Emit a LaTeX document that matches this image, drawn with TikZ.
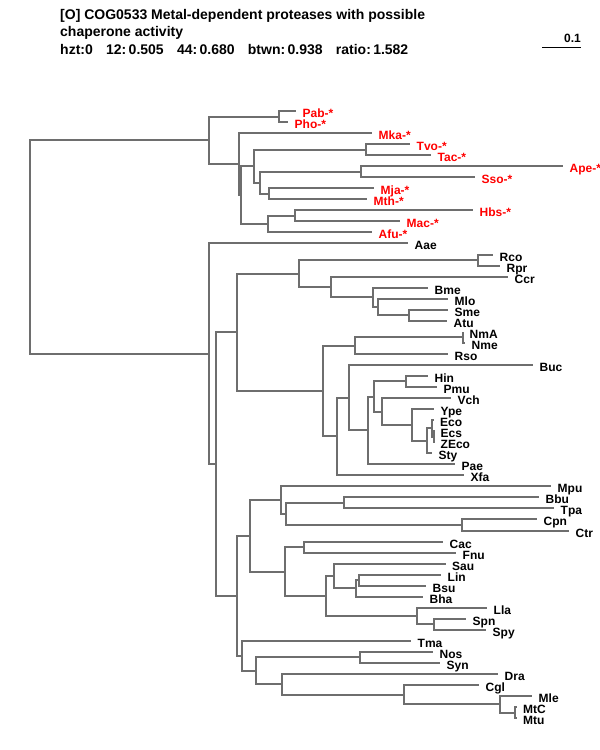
\documentclass[tikz,border=0pt]{standalone}
\usepackage{fontspec}
\setmainfont{Liberation Sans}
\definecolor{branchgray}{RGB}{110,110,110}
\definecolor{archred}{RGB}{255,0,0}
\tikzset{
  branch/.style={draw=branchgray, line width=2pt},
  taxlabel/.style={anchor=base west, inner sep=0pt, font=\bfseries\fontsize{12}{12}\selectfont},
  headline/.style={anchor=base west, inner sep=0pt, font=\bfseries\fontsize{14}{14}\selectfont},
}
% leaf: [colour]{name}{x end}{row}{text}
\newcommand{\taxon}[5][black]{%
  \coordinate (#2) at (#3,#4);
  \node[taxlabel, text=#1] (#2-lab) at ([xshift=6.5pt,yshift=-6.5pt]#2) {#5};}

\begin{document}
\begin{tikzpicture}[x=1pt, y=-1pt, line join=miter]
\useasboundingbox (0,0) rectangle (600,750);

% heading
\node[headline] (title1) at (60,19) {[O] COG0533 Metal-dependent proteases with possible};
\node[headline] (title2) at (60,36.5) {chaperone activity};
\node[headline] (stats) at (60,54) {hzt:0\hspace{0.95em}12:\,0.505\hspace{0.95em}44:\,0.680\hspace{0.95em}btwn:\,0.938\hspace{0.95em}ratio:\,1.582};

% scale bar
\coordinate (bar-l) at (542,47);
\coordinate (bar-r) at (581,47);
\draw[line width=1pt] (bar-l) -- (bar-r);
\node[taxlabel, anchor=base east] (bar-lab) at (581,42) {0.1};

\begin{scope}[yshift=-99.96pt, y=-11.04pt]
% archaea
\taxon[archred]{Pab}{296}{1}{Pab-*}
\taxon[archred]{Pho}{288}{2}{Pho-*}
\taxon[archred]{Mka}{372}{3}{Mka-*}
\taxon[archred]{Tvo}{410}{4}{Tvo-*}
\taxon[archred]{Tac}{431}{5}{Tac-*}
\taxon[archred]{Ape}{563}{6}{Ape-*}
\taxon[archred]{Sso}{475}{7}{Sso-*}
\taxon[archred]{Mja}{374}{8}{Mja-*}
\taxon[archred]{Mth}{367}{9}{Mth-*}
\taxon[archred]{Hbs}{473}{10}{Hbs-*}
\taxon[archred]{Mac}{400}{11}{Mac-*}
\taxon[archred]{Afu}{372}{12}{Afu-*}
% bacteria
\taxon{Aae}{408}{13}{Aae}
\taxon{Rco}{493}{14}{Rco}
\taxon{Rpr}{500}{15}{Rpr}
\taxon{Ccr}{508}{16}{Ccr}
\taxon{Bme}{428}{17}{Bme}
\taxon{Mlo}{448}{18}{Mlo}
\taxon{Sme}{448}{19}{Sme}
\taxon{Atu}{447}{20}{Atu}
\taxon{NmA}{463}{21}{NmA}
\taxon{Nme}{465}{22}{Nme}
\taxon{Rso}{448}{23}{Rso}
\taxon{Buc}{533}{24}{Buc}
\taxon{Hin}{428}{25}{Hin}
\taxon{Pmu}{437}{26}{Pmu}
\taxon{Vch}{451}{27}{Vch}
\taxon{Ype}{434}{28}{Ype}
\taxon{Eco}{433.5}{29}{Eco}
\taxon{Ecs}{434}{30}{Ecs}
\taxon{ZEco}{434}{31}{ZEco}
\taxon{Sty}{432}{32}{Sty}
\taxon{Pae}{455}{33}{Pae}
\taxon{Xfa}{464}{34}{Xfa}
\taxon{Mpu}{551}{35}{Mpu}
\taxon{Bbu}{539}{36}{Bbu}
\taxon{Tpa}{554}{37}{Tpa}
\taxon{Cpn}{537}{38}{Cpn}
\taxon{Ctr}{569}{39}{Ctr}
\taxon{Cac}{443}{40}{Cac}
\taxon{Fnu}{456}{41}{Fnu}
\taxon{Sau}{445.5}{42}{Sau}
\taxon{Lin}{441}{43}{Lin}
\taxon{Bsu}{426}{44}{Bsu}
\taxon{Bha}{423}{45}{Bha}
\taxon{Lla}{487}{46}{Lla}
\taxon{Spn}{466}{47}{Spn}
\taxon{Spy}{486}{48}{Spy}
\taxon{Tma}{411}{49}{Tma}
\taxon{Nos}{433}{50}{Nos}
\taxon{Syn}{440}{51}{Syn}
\taxon{Dra}{498}{52}{Dra}
\taxon{Cgl}{479}{53}{Cgl}
\taxon{Mle}{532}{54}{Mle}
\taxon{MtC}{516.5}{55}{MtC}
\taxon{Mtu}{516.5}{56}{Mtu}

% inner nodes, archaea
\coordinate (pp)  at (279,1.5);
\coordinate (nTT) at (366,4.5);
\coordinate (nAS) at (361,6.5);
\coordinate (nMM) at (269,8.5);
\coordinate (nC)  at (260,7.5);
\coordinate (nD)  at (254,6);
\coordinate (nHM) at (295,10.5);
\coordinate (nHA) at (268,11.25);
\coordinate (nB)  at (241,8.625);
\coordinate (nA)  at (239,5.8125);
\coordinate (arc) at (209,3.656);
% inner nodes, bacteria
\coordinate (nRR) at (478,14.5);
\coordinate (nSA) at (409,19.5);
\coordinate (nMl) at (378,18.75);
\coordinate (nBm) at (373,17.875);
\coordinate (nCc) at (331,16.94);
\coordinate (alp) at (299,15.72);
\coordinate (nNN) at (463,21.5);
\coordinate (nRs) at (355,22.25);
\coordinate (nHP) at (406,25.5);
\coordinate (nEZ) at (433.5,30.5);
\coordinate (nE)  at (432,29.75);
\coordinate (nSt) at (426.5,30.875);
\coordinate (nYp) at (411.7,29.44);
\coordinate (nVc) at (382.3,28.22);
\coordinate (nEnt) at (374,26.86);
\coordinate (nPa) at (367.7,29.93);
\coordinate (nBu) at (349,26.97);
\coordinate (nXf) at (337.3,30.48);
\coordinate (gam) at (323.3,26.37);
\coordinate (prot) at (237,21.04);
\coordinate (nBT) at (344,36.5);
\coordinate (nCC) at (462.3,38.5);
\coordinate (nSpi) at (286,37.5);
\coordinate (nMp) at (281,36.25);
\coordinate (nCF) at (304,40.5);
\coordinate (nLB) at (359,43.5);
\coordinate (nBh) at (356,44.25);
\coordinate (nSa) at (334,43.125);
\coordinate (nSS) at (434,47.5);
\coordinate (nLl) at (416.7,46.75);
\coordinate (nFir) at (325.7,44.94);
\coordinate (nY5) at (285,42.72);
\coordinate (nY2) at (249.7,39.48);
\coordinate (nNS) at (360,50.5);
\coordinate (nMt) at (515,55.5);
\coordinate (nMy) at (499.5,54.75);
\coordinate (nCg) at (404,53.875);
\coordinate (nDr) at (281.7,52.94);
\coordinate (nY8) at (255.7,51.72);
\coordinate (nY7) at (241.7,50.36);
\coordinate (nY1) at (236.7,44.92);
\coordinate (nX2) at (216,32.98);
\coordinate (bac) at (209,22.99);
\coordinate (root) at (30,13.32);

% branches
\foreach \p/\c in {root/arc, root/bac,
    arc/pp, pp/Pab, pp/Pho, arc/nA, nA/Mka, nA/nB, nB/nD, nB/nHA,
    nD/nTT, nTT/Tvo, nTT/Tac, nD/nC, nC/nAS, nAS/Ape, nAS/Sso,
    nC/nMM, nMM/Mja, nMM/Mth, nHA/nHM, nHM/Hbs, nHM/Mac, nHA/Afu,
    bac/Aae, bac/nX2, nX2/prot, nX2/nY1, prot/alp, prot/gam,
    alp/nRR, nRR/Rco, nRR/Rpr, alp/nCc, nCc/Ccr, nCc/nBm, nBm/Bme,
    nBm/nMl, nMl/Mlo, nMl/nSA, nSA/Sme, nSA/Atu,
    gam/nRs, nRs/nNN, nNN/NmA, nNN/Nme, nRs/Rso, gam/nXf, nXf/nBu,
    nXf/Xfa, nBu/Buc, nBu/nPa, nPa/nEnt, nPa/Pae, nEnt/nHP, nHP/Hin,
    nHP/Pmu, nEnt/nVc, nVc/Vch, nVc/nYp, nYp/Ype, nYp/nSt, nSt/nE,
    nSt/Sty, nE/Eco, nE/nEZ, nEZ/Ecs, nEZ/ZEco,
    nY1/nY2, nY1/nY7, nY2/nMp, nY2/nY5, nMp/Mpu, nMp/nSpi, nSpi/nBT,
    nSpi/nCC, nBT/Bbu, nBT/Tpa, nCC/Cpn, nCC/Ctr, nY5/nCF, nY5/nFir,
    nCF/Cac, nCF/Fnu, nFir/nSa, nFir/nLl, nSa/Sau, nSa/nBh, nBh/nLB,
    nBh/Bha, nLB/Lin, nLB/Bsu, nLl/Lla, nLl/nSS, nSS/Spn, nSS/Spy,
    nY7/Tma, nY7/nY8, nY8/nNS, nY8/nDr, nNS/Nos, nNS/Syn, nDr/Dra,
    nDr/nCg, nCg/Cgl, nCg/nMy, nMy/Mle, nMy/nMt, nMt/MtC, nMt/Mtu}
  \draw[branch] (\p) |- (\c);
\end{scope}
\end{tikzpicture}
\end{document}
